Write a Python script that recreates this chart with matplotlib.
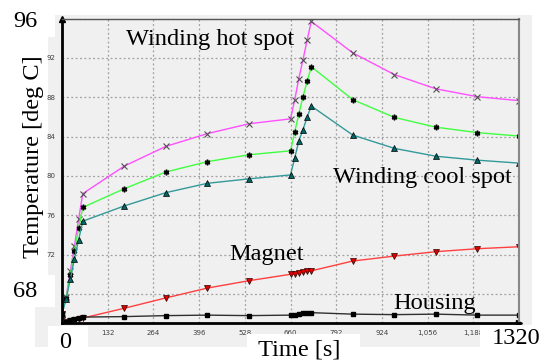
import matplotlib.pyplot as plt
from matplotlib.patches import Rectangle

# time [s]
t = [0, 12, 24, 36, 48, 60, 180, 300, 420, 540, 660, 672, 684, 696, 708, 720,
     840, 960, 1080, 1200, 1320]
hot = [66.0, 67.7, 70.3, 72.9, 75.6, 78.2, 81.0, 83.0, 84.3, 85.3, 85.8, 87.7,
       89.9, 91.8, 93.8, 95.7, 92.5, 90.3, 88.85, 88.05, 87.65]
mid = [66.0, 67.6, 69.9, 72.4, 74.7, 76.8, 78.7, 80.4, 81.45, 82.15, 82.55, 84.45,
       86.3, 88.05, 89.6, 91.1, 87.75, 85.95, 84.95, 84.4, 84.05]
cool = [66.0, 67.5, 69.5, 71.6, 73.5, 75.4, 76.95, 78.3, 79.25, 79.7, 80.1, 81.8,
        83.55, 84.7, 85.95, 87.1, 84.15, 82.8, 82.0, 81.6, 81.3]
magnet = [66.0, 65.2, 65.3, 65.35, 65.45, 65.55, 66.55, 67.6, 68.6, 69.35, 70.0, 70.05,
          70.15, 70.2, 70.3, 70.35, 71.35, 71.85, 72.3, 72.6, 72.8]
housing = [66.0, 65.2, 65.35, 65.45, 65.55, 65.65, 65.7, 65.8, 65.85, 65.8, 65.85, 65.9,
           66.0, 66.05, 66.05, 66.1, 65.95, 65.9, 65.95, 65.85, 65.85]

# end labels 0 and 1320 are covered by the big labels in the original
xticks = [0, 132, 264, 396, 528, 660, 792, 924, 1056, 1188, 1320]
xticklabels = ['', '132', '264', '396', '528', '660', '792', '924', '1,056', '1,188', '']
yticks = [68, 72, 76, 80, 84, 88, 92, 96]

W, H = 549, 361
BG = '#f0f0f0'
SERIF = 'Liberation Serif'
BIG = 17.6


def fx(px):
    return px / W


def fy(py):
    return 1 - py / H


def box(x0, y0, x1, y1, color='white', z=1):
    fig.add_artist(Rectangle((fx(x0), fy(y1)), (x1 - x0) / W, (y1 - y0) / H,
                             transform=fig.transFigure, facecolor=color,
                             edgecolor='none', zorder=z))


def label(px, py, s, **kw):
    fig.text(fx(px), fy(py), s, family=SERIF, fontsize=BIG, va='baseline',
             ha='left', zorder=5, **kw)


fig = plt.figure(figsize=(W / 100, H / 100), dpi=100)
fig.patch.set_facecolor('white')

# grey screenshot background
box(48, 15, 532, 347, BG, z=-10)
box(35, 307, 48, 347, BG, z=-10)

ax = fig.add_axes([fx(62), fy(322.7), (519 - 62) / W, (322.7 - 18.5) / H])
ax.set_facecolor(BG)

ax.plot(t, hot, color='#ff50ff', lw=1, marker='x', ms=4, mec='#505050', mew=0.8)
ax.plot(t, mid, color='#40ff40', lw=1, marker=(6, 2, 0), ms=4, mec='black', mew=1.1)
ax.plot(t, cool, color='#339999', lw=1, marker='^', ms=4, mfc='#006666', mec='black', mew=0.5)
ax.plot(t, magnet, color='#ff4040', lw=1, marker='v', ms=4, mfc='#dd0000', mec='#300000', mew=0.5)
ax.plot(t, housing, color='#303030', lw=1, marker='s', ms=3.5, mfc='black', mec='black')

ax.set_xlim(0, 1320)
ax.set_ylim(65.08, 96)
ax.set_xticks(xticks)
ax.set_xticklabels(xticklabels)
ax.set_yticks(yticks)
ax.tick_params(length=0, labelsize=5, colors='#404040')
ax.tick_params(axis='x', pad=5)
ax.tick_params(axis='y', pad=4.5)
ax.grid(True, color='#a0a0a0', linestyle=(0, (1.5, 2)), lw=0.9)

ax.spines['left'].set_linewidth(2)
ax.spines['bottom'].set_linewidth(2)
ax.spines['top'].set_color('#555555')
ax.spines['top'].set_linewidth(1)
ax.spines['right'].set_color('#888888')
ax.spines['right'].set_linewidth(1.5)
ax.plot(0, 1, marker='^', color='black', ms=5, transform=ax.transAxes, clip_on=False)
ax.plot(1, 0, marker='>', color='black', ms=5, transform=ax.transAxes, clip_on=False)

# white label boxes from the original figure
box(0, 0, 55, 37)
box(0, 275, 55, 307)
box(48, 326, 88, 361)
box(247, 334, 360, 361)
box(480, 325, 545, 347)

label(13, 27, '96')
label(13, 297, '68')
label(59, 348, '0')
label(258, 355.5, 'Time [s]')
label(492, 344.5, '1320')
fig.text(fx(39), fy(258), 'Temperature [deg C]', family=SERIF, fontsize=BIG,
         rotation=90, rotation_mode='anchor', ha='left', va='baseline', zorder=5)

label(126, 45, 'Winding hot spot')
label(333, 183, 'Winding cool spot')
label(229, 260, 'Magnet')
label(393, 308.5, 'Housing')

fig.savefig('out.png', dpi=100)
